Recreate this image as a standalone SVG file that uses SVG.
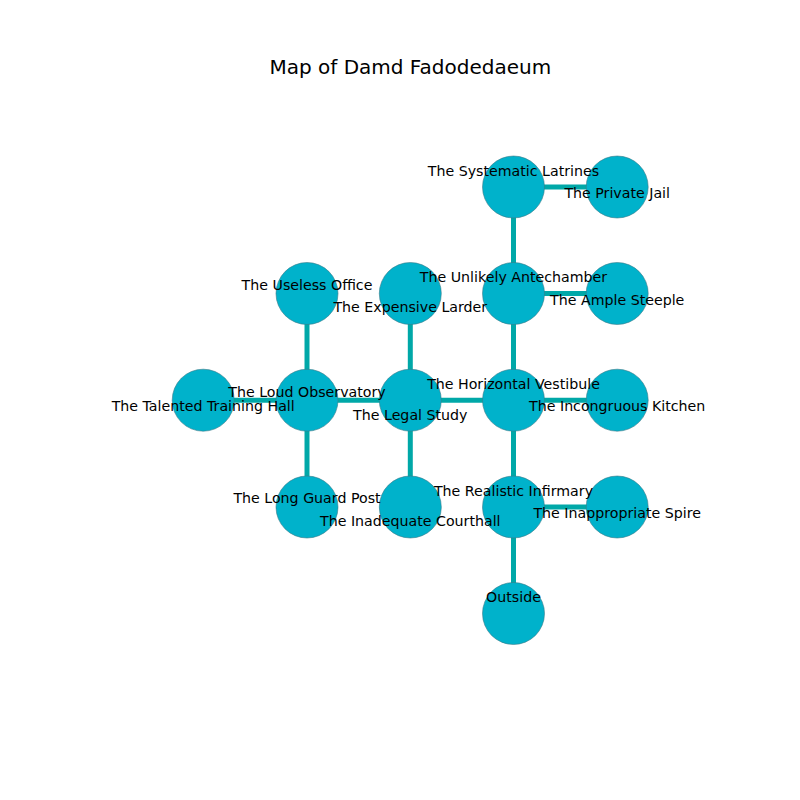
<svg xmlns="http://www.w3.org/2000/svg" width="800" height="800" viewBox="0 0 800 800">
<style>
.e{stroke:#00a8a8;stroke-width:5;fill:none}
.n{fill:#00b2cb;stroke:#3a7a88;stroke-width:0.6}
.l{font-family:"DejaVu Sans",sans-serif;font-size:14.2px;fill:#000;text-anchor:middle}
.t{font-family:"DejaVu Sans",sans-serif;font-size:20px;fill:#000;text-anchor:middle}
</style>
<rect width="800" height="800" fill="#fff"/>
<text class="t" x="410.3" y="73.5">Map of Damd Fadodedaeum</text>
<g id="connectors">
<line class="e" x1="513.5" y1="187" x2="617.2" y2="187"/>
<line class="e" x1="513.5" y1="187" x2="513.5" y2="293.5"/>
<line class="e" x1="513.5" y1="293.5" x2="617.2" y2="293.5"/>
<line class="e" x1="513.5" y1="293.5" x2="513.5" y2="400.2"/>
<line class="e" x1="307" y1="293.5" x2="307" y2="400.2"/>
<line class="e" x1="410.3" y1="293.5" x2="410.3" y2="400.2"/>
<line class="e" x1="203.2" y1="400.2" x2="307" y2="400.2"/>
<line class="e" x1="307" y1="400.2" x2="410.3" y2="400.2"/>
<line class="e" x1="410.3" y1="400.2" x2="513.5" y2="400.2"/>
<line class="e" x1="513.5" y1="400.2" x2="617.2" y2="400.2"/>
<line class="e" x1="513.5" y1="400.2" x2="513.5" y2="507"/>
<line class="e" x1="307" y1="400.2" x2="307" y2="507"/>
<line class="e" x1="410.3" y1="400.2" x2="410.3" y2="507"/>
<line class="e" x1="513.5" y1="507" x2="617.2" y2="507"/>
<line class="e" x1="513.5" y1="507" x2="513.5" y2="613.5"/>
</g>
<g id="node-systematic-latrines"><circle class="n" cx="513.5" cy="187" r="31"/></g>
<g id="node-private-jail"><circle class="n" cx="617.2" cy="187" r="31"/></g>
<g id="node-useless-office"><circle class="n" cx="307" cy="293.5" r="31"/></g>
<g id="node-expensive-larder"><circle class="n" cx="410.3" cy="293.5" r="31"/></g>
<g id="node-unlikely-antechamber"><circle class="n" cx="513.5" cy="293.5" r="31"/></g>
<g id="node-ample-steeple"><circle class="n" cx="617.2" cy="293.5" r="31"/></g>
<g id="node-talented-training-hall"><circle class="n" cx="203.2" cy="400.2" r="31"/></g>
<g id="node-loud-observatory"><circle class="n" cx="307" cy="400.2" r="31"/></g>
<g id="node-legal-study"><circle class="n" cx="410.3" cy="400.2" r="31"/></g>
<g id="node-horizontal-vestibule"><circle class="n" cx="513.5" cy="400.2" r="31"/></g>
<g id="node-incongruous-kitchen"><circle class="n" cx="617.2" cy="400.2" r="31"/></g>
<g id="node-long-guard-post"><circle class="n" cx="307" cy="507" r="31"/></g>
<g id="node-inadequate-courthall"><circle class="n" cx="410.3" cy="507" r="31"/></g>
<g id="node-realistic-infirmary"><circle class="n" cx="513.5" cy="507" r="31"/></g>
<g id="node-inappropriate-spire"><circle class="n" cx="617.2" cy="507" r="31"/></g>
<g id="node-outside"><circle class="n" cx="513.5" cy="613.5" r="31"/></g>
<g id="labels">
<text class="l" x="513.5" y="176">The Systematic Latrines</text>
<text class="l" x="617.2" y="198.3">The Private Jail</text>
<text class="l" x="307" y="290">The Useless Office</text>
<text class="l" x="410.3" y="312">The Expensive Larder</text>
<text class="l" x="513.5" y="282.3">The Unlikely Antechamber</text>
<text class="l" x="617.2" y="305">The Ample Steeple</text>
<text class="l" x="203.2" y="411">The Talented Training Hall</text>
<text class="l" x="307" y="397.3">The Loud Observatory</text>
<text class="l" x="410.3" y="419.5">The Legal Study</text>
<text class="l" x="513.5" y="389">The Horizontal Vestibule</text>
<text class="l" x="617.2" y="411">The Incongruous Kitchen</text>
<text class="l" x="307" y="503.3">The Long Guard Post</text>
<text class="l" x="410.3" y="526">The Inadequate Courthall</text>
<text class="l" x="513.5" y="496">The Realistic Infirmary</text>
<text class="l" x="617.2" y="518">The Inappropriate Spire</text>
<text class="l" x="513.5" y="602.3">Outside</text>
</g>
</svg>
